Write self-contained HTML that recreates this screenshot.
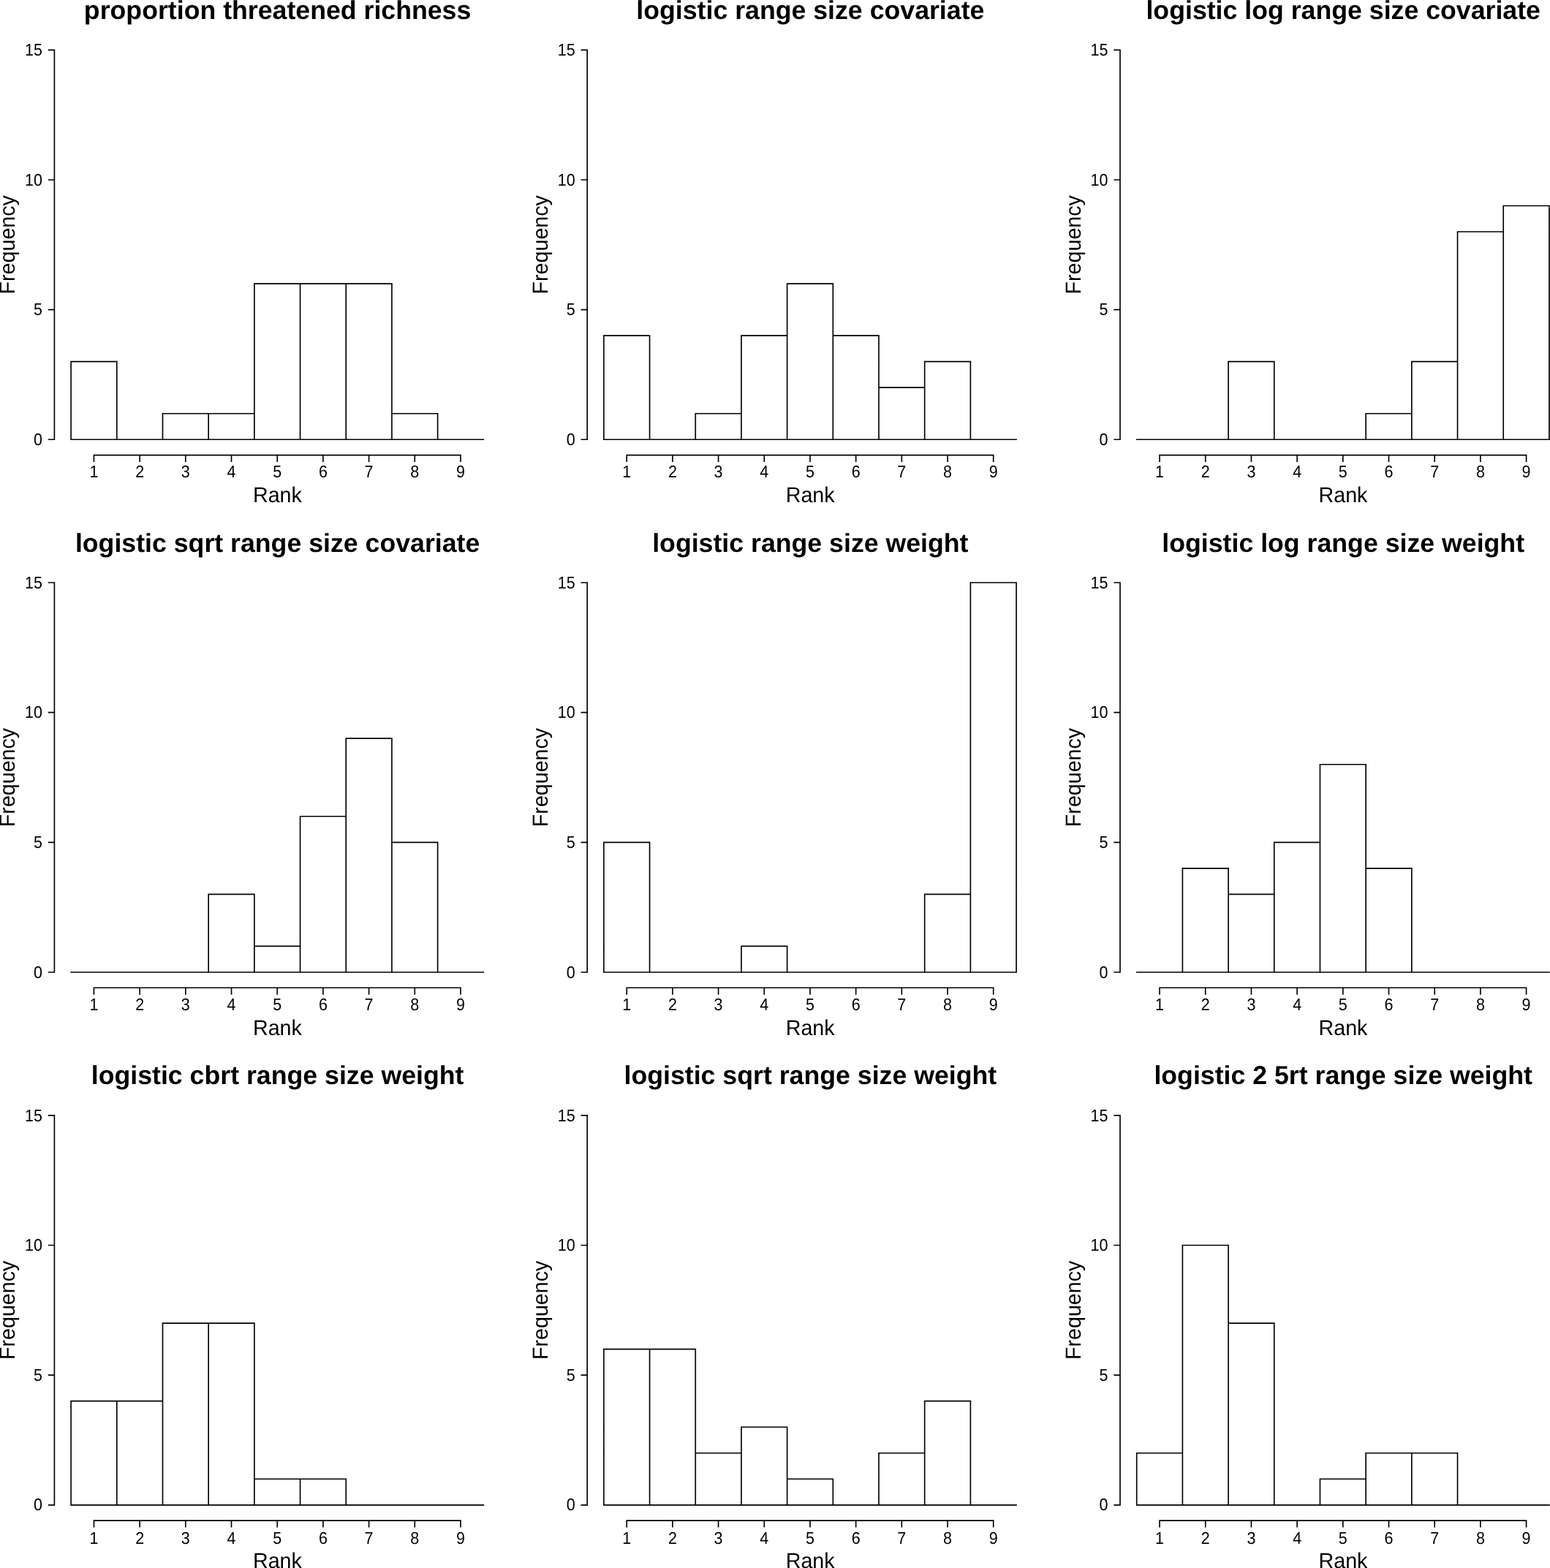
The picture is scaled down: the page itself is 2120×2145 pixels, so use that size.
<!DOCTYPE html>
<html lang="en">
<head>
<meta charset="utf-8">
<title>Rank frequency histograms</title>
<style>
html,body{margin:0;padding:0;background:#fff;}
body{width:2120px;height:2145px;overflow:hidden;}
svg{display:block;}
text{font-family:"Liberation Sans",Arial,Helvetica,sans-serif;fill:#000;text-rendering:geometricPrecision;}
.main{font-size:35.7px;font-weight:bold;text-anchor:middle;}
.lab{font-size:28.65px;text-anchor:middle;}
.xt{font-size:22.4px;text-anchor:middle;}
.yt{font-size:22.4px;text-anchor:end;}
.bar{fill:none;stroke:#000;stroke-width:1.65;stroke-linejoin:miter;stroke-linecap:square;}
.ax{fill:none;stroke:#000;stroke-width:1.65;stroke-linecap:square;}
</style>
</head>
<body>
<svg role="img" aria-label="Rank frequency histograms for nine models" width="2120" height="2145" viewBox="0 0 2120 2145">
<rect x="0" y="0" width="2120" height="2145" fill="#fff"/>
<g class="panel">
<text class="main" x="379.6" y="25.8">proportion threatened richness</text>
<path class="bar" d="M97.1 601.25H661.32M97.1 601.25V494.66H159.79V601.25M222.48 601.25V565.72H285.17V601.25M285.17 601.25V565.72H347.86V601.25M347.87 601.25V388.07H410.56V601.25M410.56 601.25V388.07H473.25V601.25M473.24 601.25V388.07H535.93V601.25M535.93 601.25V565.72H598.62V601.25"/>
<path class="ax" d="M74.4 68.3V601.25M74.4 601.25H66.6M74.4 423.6H66.6M74.4 245.95H66.6M74.4 68.3H66.6M128.45 622.57H629.97M128.45 622.57V631.17M191.14 622.57V631.17M253.83 622.57V631.17M316.52 622.57V631.17M379.21 622.57V631.17M441.9 622.57V631.17M504.59 622.57V631.17M567.28 622.57V631.17M629.97 622.57V631.17"/>
<text class="yt" transform="translate(57.9 608.9) scale(0.96 1.04)">0</text>
<text class="yt" transform="translate(57.9 431.25) scale(0.96 1.04)">5</text>
<text class="yt" transform="translate(57.9 253.6) scale(0.96 1.04)">10</text>
<text class="yt" transform="translate(57.9 75.95) scale(0.96 1.04)">15</text>
<text class="xt" transform="translate(128.45 653.32) scale(0.96 1.04)">1</text>
<text class="xt" transform="translate(191.14 653.32) scale(0.96 1.04)">2</text>
<text class="xt" transform="translate(253.83 653.32) scale(0.96 1.04)">3</text>
<text class="xt" transform="translate(316.52 653.32) scale(0.96 1.04)">4</text>
<text class="xt" transform="translate(379.21 653.32) scale(0.96 1.04)">5</text>
<text class="xt" transform="translate(441.9 653.32) scale(0.96 1.04)">6</text>
<text class="xt" transform="translate(504.59 653.32) scale(0.96 1.04)">7</text>
<text class="xt" transform="translate(567.28 653.32) scale(0.96 1.04)">8</text>
<text class="xt" transform="translate(629.97 653.32) scale(0.96 1.04)">9</text>
<text class="lab" transform="translate(379.4 687.27) scale(1 1.03)">Rank</text>
<text class="lab" transform="translate(20.1 334.77) rotate(-90) scale(1 1.03)">Frequency</text>
</g>
<g class="panel">
<text class="main" x="1108.35" y="25.8">logistic range size covariate</text>
<path class="bar" d="M825.85 601.25H1390.07M825.85 601.25V459.13H888.54V601.25M951.23 601.25V565.72H1013.92V601.25M1013.92 601.25V459.13H1076.62V601.25M1076.62 601.25V388.07H1139.31V601.25M1139.3 601.25V459.13H1201.99V601.25M1201.99 601.25V530.19H1264.68V601.25M1264.68 601.25V494.66H1327.38V601.25"/>
<path class="ax" d="M803.15 68.3V601.25M803.15 601.25H795.35M803.15 423.6H795.35M803.15 245.95H795.35M803.15 68.3H795.35M857.2 622.57H1358.72M857.2 622.57V631.17M919.89 622.57V631.17M982.58 622.57V631.17M1045.27 622.57V631.17M1107.96 622.57V631.17M1170.65 622.57V631.17M1233.34 622.57V631.17M1296.03 622.57V631.17M1358.72 622.57V631.17"/>
<text class="yt" transform="translate(786.65 608.9) scale(0.96 1.04)">0</text>
<text class="yt" transform="translate(786.65 431.25) scale(0.96 1.04)">5</text>
<text class="yt" transform="translate(786.65 253.6) scale(0.96 1.04)">10</text>
<text class="yt" transform="translate(786.65 75.95) scale(0.96 1.04)">15</text>
<text class="xt" transform="translate(857.2 653.32) scale(0.96 1.04)">1</text>
<text class="xt" transform="translate(919.89 653.32) scale(0.96 1.04)">2</text>
<text class="xt" transform="translate(982.58 653.32) scale(0.96 1.04)">3</text>
<text class="xt" transform="translate(1045.27 653.32) scale(0.96 1.04)">4</text>
<text class="xt" transform="translate(1107.96 653.32) scale(0.96 1.04)">5</text>
<text class="xt" transform="translate(1170.65 653.32) scale(0.96 1.04)">6</text>
<text class="xt" transform="translate(1233.34 653.32) scale(0.96 1.04)">7</text>
<text class="xt" transform="translate(1296.03 653.32) scale(0.96 1.04)">8</text>
<text class="xt" transform="translate(1358.72 653.32) scale(0.96 1.04)">9</text>
<text class="lab" transform="translate(1108.15 687.27) scale(1 1.03)">Rank</text>
<text class="lab" transform="translate(748.85 334.77) rotate(-90) scale(1 1.03)">Frequency</text>
</g>
<g class="panel">
<text class="main" x="1837.2" y="25.8">logistic log range size covariate</text>
<path class="bar" d="M1554.7 601.25H2118.91M1680.09 601.25V494.66H1742.78V601.25M1868.15 601.25V565.72H1930.85V601.25M1930.84 601.25V494.66H1993.53V601.25M1993.53 601.25V317.01H2056.22V601.25M2056.22 601.25V281.48H2118.91V601.25"/>
<path class="ax" d="M1532 68.3V601.25M1532 601.25H1524.2M1532 423.6H1524.2M1532 245.95H1524.2M1532 68.3H1524.2M1586.05 622.57H2087.57M1586.05 622.57V631.17M1648.74 622.57V631.17M1711.43 622.57V631.17M1774.12 622.57V631.17M1836.81 622.57V631.17M1899.5 622.57V631.17M1962.19 622.57V631.17M2024.88 622.57V631.17M2087.57 622.57V631.17"/>
<text class="yt" transform="translate(1515.5 608.9) scale(0.96 1.04)">0</text>
<text class="yt" transform="translate(1515.5 431.25) scale(0.96 1.04)">5</text>
<text class="yt" transform="translate(1515.5 253.6) scale(0.96 1.04)">10</text>
<text class="yt" transform="translate(1515.5 75.95) scale(0.96 1.04)">15</text>
<text class="xt" transform="translate(1586.05 653.32) scale(0.96 1.04)">1</text>
<text class="xt" transform="translate(1648.74 653.32) scale(0.96 1.04)">2</text>
<text class="xt" transform="translate(1711.43 653.32) scale(0.96 1.04)">3</text>
<text class="xt" transform="translate(1774.12 653.32) scale(0.96 1.04)">4</text>
<text class="xt" transform="translate(1836.81 653.32) scale(0.96 1.04)">5</text>
<text class="xt" transform="translate(1899.5 653.32) scale(0.96 1.04)">6</text>
<text class="xt" transform="translate(1962.19 653.32) scale(0.96 1.04)">7</text>
<text class="xt" transform="translate(2024.88 653.32) scale(0.96 1.04)">8</text>
<text class="xt" transform="translate(2087.57 653.32) scale(0.96 1.04)">9</text>
<text class="lab" transform="translate(1837 687.27) scale(1 1.03)">Rank</text>
<text class="lab" transform="translate(1477.7 334.77) rotate(-90) scale(1 1.03)">Frequency</text>
</g>
<g class="panel">
<text class="main" x="379.6" y="754.5">logistic sqrt range size covariate</text>
<path class="bar" d="M97.1 1329.95H661.32M285.17 1329.95V1223.36H347.86V1329.95M347.87 1329.95V1294.42H410.56V1329.95M410.56 1329.95V1116.77H473.25V1329.95M473.24 1329.95V1010.18H535.93V1329.95M535.93 1329.95V1152.3H598.62V1329.95"/>
<path class="ax" d="M74.4 797V1329.95M74.4 1329.95H66.6M74.4 1152.3H66.6M74.4 974.65H66.6M74.4 797H66.6M128.45 1351.27H629.97M128.45 1351.27V1359.87M191.14 1351.27V1359.87M253.83 1351.27V1359.87M316.52 1351.27V1359.87M379.21 1351.27V1359.87M441.9 1351.27V1359.87M504.59 1351.27V1359.87M567.28 1351.27V1359.87M629.97 1351.27V1359.87"/>
<text class="yt" transform="translate(57.9 1337.6) scale(0.96 1.04)">0</text>
<text class="yt" transform="translate(57.9 1159.95) scale(0.96 1.04)">5</text>
<text class="yt" transform="translate(57.9 982.3) scale(0.96 1.04)">10</text>
<text class="yt" transform="translate(57.9 804.65) scale(0.96 1.04)">15</text>
<text class="xt" transform="translate(128.45 1382.02) scale(0.96 1.04)">1</text>
<text class="xt" transform="translate(191.14 1382.02) scale(0.96 1.04)">2</text>
<text class="xt" transform="translate(253.83 1382.02) scale(0.96 1.04)">3</text>
<text class="xt" transform="translate(316.52 1382.02) scale(0.96 1.04)">4</text>
<text class="xt" transform="translate(379.21 1382.02) scale(0.96 1.04)">5</text>
<text class="xt" transform="translate(441.9 1382.02) scale(0.96 1.04)">6</text>
<text class="xt" transform="translate(504.59 1382.02) scale(0.96 1.04)">7</text>
<text class="xt" transform="translate(567.28 1382.02) scale(0.96 1.04)">8</text>
<text class="xt" transform="translate(629.97 1382.02) scale(0.96 1.04)">9</text>
<text class="lab" transform="translate(379.4 1415.97) scale(1 1.03)">Rank</text>
<text class="lab" transform="translate(20.1 1063.47) rotate(-90) scale(1 1.03)">Frequency</text>
</g>
<g class="panel">
<text class="main" x="1108.35" y="754.5">logistic range size weight</text>
<path class="bar" d="M825.85 1329.95H1390.07M825.85 1329.95V1152.3H888.54V1329.95M1013.92 1329.95V1294.42H1076.62V1329.95M1264.68 1329.95V1223.36H1327.38V1329.95M1327.38 1329.95V797H1390.07V1329.95"/>
<path class="ax" d="M803.15 797V1329.95M803.15 1329.95H795.35M803.15 1152.3H795.35M803.15 974.65H795.35M803.15 797H795.35M857.2 1351.27H1358.72M857.2 1351.27V1359.87M919.89 1351.27V1359.87M982.58 1351.27V1359.87M1045.27 1351.27V1359.87M1107.96 1351.27V1359.87M1170.65 1351.27V1359.87M1233.34 1351.27V1359.87M1296.03 1351.27V1359.87M1358.72 1351.27V1359.87"/>
<text class="yt" transform="translate(786.65 1337.6) scale(0.96 1.04)">0</text>
<text class="yt" transform="translate(786.65 1159.95) scale(0.96 1.04)">5</text>
<text class="yt" transform="translate(786.65 982.3) scale(0.96 1.04)">10</text>
<text class="yt" transform="translate(786.65 804.65) scale(0.96 1.04)">15</text>
<text class="xt" transform="translate(857.2 1382.02) scale(0.96 1.04)">1</text>
<text class="xt" transform="translate(919.89 1382.02) scale(0.96 1.04)">2</text>
<text class="xt" transform="translate(982.58 1382.02) scale(0.96 1.04)">3</text>
<text class="xt" transform="translate(1045.27 1382.02) scale(0.96 1.04)">4</text>
<text class="xt" transform="translate(1107.96 1382.02) scale(0.96 1.04)">5</text>
<text class="xt" transform="translate(1170.65 1382.02) scale(0.96 1.04)">6</text>
<text class="xt" transform="translate(1233.34 1382.02) scale(0.96 1.04)">7</text>
<text class="xt" transform="translate(1296.03 1382.02) scale(0.96 1.04)">8</text>
<text class="xt" transform="translate(1358.72 1382.02) scale(0.96 1.04)">9</text>
<text class="lab" transform="translate(1108.15 1415.97) scale(1 1.03)">Rank</text>
<text class="lab" transform="translate(748.85 1063.47) rotate(-90) scale(1 1.03)">Frequency</text>
</g>
<g class="panel">
<text class="main" x="1837.2" y="754.5">logistic log range size weight</text>
<path class="bar" d="M1554.7 1329.95H2118.91M1617.39 1329.95V1187.83H1680.09V1329.95M1680.09 1329.95V1223.36H1742.78V1329.95M1742.77 1329.95V1152.3H1805.46V1329.95M1805.46 1329.95V1045.71H1868.15V1329.95M1868.15 1329.95V1187.83H1930.85V1329.95"/>
<path class="ax" d="M1532 797V1329.95M1532 1329.95H1524.2M1532 1152.3H1524.2M1532 974.65H1524.2M1532 797H1524.2M1586.05 1351.27H2087.57M1586.05 1351.27V1359.87M1648.74 1351.27V1359.87M1711.43 1351.27V1359.87M1774.12 1351.27V1359.87M1836.81 1351.27V1359.87M1899.5 1351.27V1359.87M1962.19 1351.27V1359.87M2024.88 1351.27V1359.87M2087.57 1351.27V1359.87"/>
<text class="yt" transform="translate(1515.5 1337.6) scale(0.96 1.04)">0</text>
<text class="yt" transform="translate(1515.5 1159.95) scale(0.96 1.04)">5</text>
<text class="yt" transform="translate(1515.5 982.3) scale(0.96 1.04)">10</text>
<text class="yt" transform="translate(1515.5 804.65) scale(0.96 1.04)">15</text>
<text class="xt" transform="translate(1586.05 1382.02) scale(0.96 1.04)">1</text>
<text class="xt" transform="translate(1648.74 1382.02) scale(0.96 1.04)">2</text>
<text class="xt" transform="translate(1711.43 1382.02) scale(0.96 1.04)">3</text>
<text class="xt" transform="translate(1774.12 1382.02) scale(0.96 1.04)">4</text>
<text class="xt" transform="translate(1836.81 1382.02) scale(0.96 1.04)">5</text>
<text class="xt" transform="translate(1899.5 1382.02) scale(0.96 1.04)">6</text>
<text class="xt" transform="translate(1962.19 1382.02) scale(0.96 1.04)">7</text>
<text class="xt" transform="translate(2024.88 1382.02) scale(0.96 1.04)">8</text>
<text class="xt" transform="translate(2087.57 1382.02) scale(0.96 1.04)">9</text>
<text class="lab" transform="translate(1837 1415.97) scale(1 1.03)">Rank</text>
<text class="lab" transform="translate(1477.7 1063.47) rotate(-90) scale(1 1.03)">Frequency</text>
</g>
<g class="panel">
<text class="main" x="379.6" y="1483.35">logistic cbrt range size weight</text>
<path class="bar" d="M97.1 2058.8H661.32M97.1 2058.8V1916.68H159.79V2058.8M159.79 2058.8V1916.68H222.48V2058.8M222.48 2058.8V1810.09H285.17V2058.8M285.17 2058.8V1810.09H347.86V2058.8M347.87 2058.8V2023.27H410.56V2058.8M410.56 2058.8V2023.27H473.25V2058.8"/>
<path class="ax" d="M74.4 1525.85V2058.8M74.4 2058.8H66.6M74.4 1881.15H66.6M74.4 1703.5H66.6M74.4 1525.85H66.6M128.45 2080.12H629.97M128.45 2080.12V2088.72M191.14 2080.12V2088.72M253.83 2080.12V2088.72M316.52 2080.12V2088.72M379.21 2080.12V2088.72M441.9 2080.12V2088.72M504.59 2080.12V2088.72M567.28 2080.12V2088.72M629.97 2080.12V2088.72"/>
<text class="yt" transform="translate(57.9 2066.45) scale(0.96 1.04)">0</text>
<text class="yt" transform="translate(57.9 1888.8) scale(0.96 1.04)">5</text>
<text class="yt" transform="translate(57.9 1711.15) scale(0.96 1.04)">10</text>
<text class="yt" transform="translate(57.9 1533.5) scale(0.96 1.04)">15</text>
<text class="xt" transform="translate(128.45 2111.87) scale(0.96 1.04)">1</text>
<text class="xt" transform="translate(191.14 2111.87) scale(0.96 1.04)">2</text>
<text class="xt" transform="translate(253.83 2111.87) scale(0.96 1.04)">3</text>
<text class="xt" transform="translate(316.52 2111.87) scale(0.96 1.04)">4</text>
<text class="xt" transform="translate(379.21 2111.87) scale(0.96 1.04)">5</text>
<text class="xt" transform="translate(441.9 2111.87) scale(0.96 1.04)">6</text>
<text class="xt" transform="translate(504.59 2111.87) scale(0.96 1.04)">7</text>
<text class="xt" transform="translate(567.28 2111.87) scale(0.96 1.04)">8</text>
<text class="xt" transform="translate(629.97 2111.87) scale(0.96 1.04)">9</text>
<text class="lab" transform="translate(379.4 2144.82) scale(1 1.03)">Rank</text>
<text class="lab" transform="translate(20.1 1792.33) rotate(-90) scale(1 1.03)">Frequency</text>
</g>
<g class="panel">
<text class="main" x="1108.35" y="1483.35">logistic sqrt range size weight</text>
<path class="bar" d="M825.85 2058.8H1390.07M825.85 2058.8V1845.62H888.54V2058.8M888.54 2058.8V1845.62H951.23V2058.8M951.23 2058.8V1987.74H1013.92V2058.8M1013.92 2058.8V1952.21H1076.62V2058.8M1076.62 2058.8V2023.27H1139.31V2058.8M1201.99 2058.8V1987.74H1264.68V2058.8M1264.68 2058.8V1916.68H1327.38V2058.8"/>
<path class="ax" d="M803.15 1525.85V2058.8M803.15 2058.8H795.35M803.15 1881.15H795.35M803.15 1703.5H795.35M803.15 1525.85H795.35M857.2 2080.12H1358.72M857.2 2080.12V2088.72M919.89 2080.12V2088.72M982.58 2080.12V2088.72M1045.27 2080.12V2088.72M1107.96 2080.12V2088.72M1170.65 2080.12V2088.72M1233.34 2080.12V2088.72M1296.03 2080.12V2088.72M1358.72 2080.12V2088.72"/>
<text class="yt" transform="translate(786.65 2066.45) scale(0.96 1.04)">0</text>
<text class="yt" transform="translate(786.65 1888.8) scale(0.96 1.04)">5</text>
<text class="yt" transform="translate(786.65 1711.15) scale(0.96 1.04)">10</text>
<text class="yt" transform="translate(786.65 1533.5) scale(0.96 1.04)">15</text>
<text class="xt" transform="translate(857.2 2111.87) scale(0.96 1.04)">1</text>
<text class="xt" transform="translate(919.89 2111.87) scale(0.96 1.04)">2</text>
<text class="xt" transform="translate(982.58 2111.87) scale(0.96 1.04)">3</text>
<text class="xt" transform="translate(1045.27 2111.87) scale(0.96 1.04)">4</text>
<text class="xt" transform="translate(1107.96 2111.87) scale(0.96 1.04)">5</text>
<text class="xt" transform="translate(1170.65 2111.87) scale(0.96 1.04)">6</text>
<text class="xt" transform="translate(1233.34 2111.87) scale(0.96 1.04)">7</text>
<text class="xt" transform="translate(1296.03 2111.87) scale(0.96 1.04)">8</text>
<text class="xt" transform="translate(1358.72 2111.87) scale(0.96 1.04)">9</text>
<text class="lab" transform="translate(1108.15 2144.82) scale(1 1.03)">Rank</text>
<text class="lab" transform="translate(748.85 1792.33) rotate(-90) scale(1 1.03)">Frequency</text>
</g>
<g class="panel">
<text class="main" x="1837.2" y="1483.35">logistic 2 5rt range size weight</text>
<path class="bar" d="M1554.7 2058.8H2118.91M1554.7 2058.8V1987.74H1617.39V2058.8M1617.39 2058.8V1703.5H1680.09V2058.8M1680.09 2058.8V1810.09H1742.78V2058.8M1805.46 2058.8V2023.27H1868.15V2058.8M1868.15 2058.8V1987.74H1930.85V2058.8M1930.84 2058.8V1987.74H1993.53V2058.8"/>
<path class="ax" d="M1532 1525.85V2058.8M1532 2058.8H1524.2M1532 1881.15H1524.2M1532 1703.5H1524.2M1532 1525.85H1524.2M1586.05 2080.12H2087.57M1586.05 2080.12V2088.72M1648.74 2080.12V2088.72M1711.43 2080.12V2088.72M1774.12 2080.12V2088.72M1836.81 2080.12V2088.72M1899.5 2080.12V2088.72M1962.19 2080.12V2088.72M2024.88 2080.12V2088.72M2087.57 2080.12V2088.72"/>
<text class="yt" transform="translate(1515.5 2066.45) scale(0.96 1.04)">0</text>
<text class="yt" transform="translate(1515.5 1888.8) scale(0.96 1.04)">5</text>
<text class="yt" transform="translate(1515.5 1711.15) scale(0.96 1.04)">10</text>
<text class="yt" transform="translate(1515.5 1533.5) scale(0.96 1.04)">15</text>
<text class="xt" transform="translate(1586.05 2111.87) scale(0.96 1.04)">1</text>
<text class="xt" transform="translate(1648.74 2111.87) scale(0.96 1.04)">2</text>
<text class="xt" transform="translate(1711.43 2111.87) scale(0.96 1.04)">3</text>
<text class="xt" transform="translate(1774.12 2111.87) scale(0.96 1.04)">4</text>
<text class="xt" transform="translate(1836.81 2111.87) scale(0.96 1.04)">5</text>
<text class="xt" transform="translate(1899.5 2111.87) scale(0.96 1.04)">6</text>
<text class="xt" transform="translate(1962.19 2111.87) scale(0.96 1.04)">7</text>
<text class="xt" transform="translate(2024.88 2111.87) scale(0.96 1.04)">8</text>
<text class="xt" transform="translate(2087.57 2111.87) scale(0.96 1.04)">9</text>
<text class="lab" transform="translate(1837 2144.82) scale(1 1.03)">Rank</text>
<text class="lab" transform="translate(1477.7 1792.33) rotate(-90) scale(1 1.03)">Frequency</text>
</g>
</svg>
</body>
</html>
